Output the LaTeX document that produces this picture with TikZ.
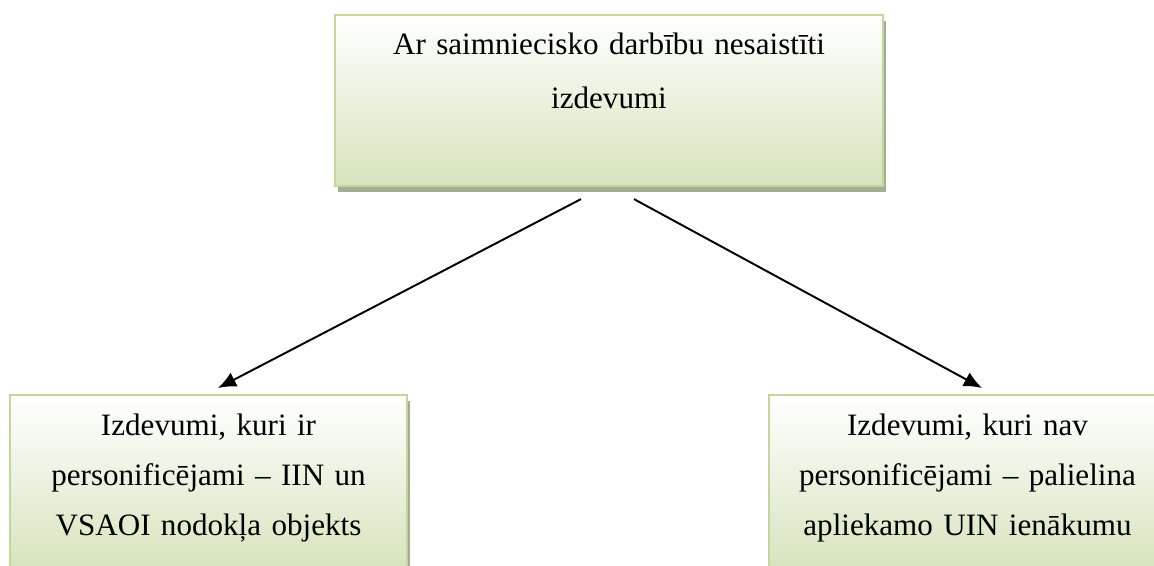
\documentclass[tikz,border=0pt]{standalone}
\usepackage{fontspec}
\setmainfont{Liberation Serif}
\usetikzlibrary{arrows.meta,shadows,calc}
\definecolor{boxline}{HTML}{C3D69B}
\definecolor{boxfill}{HTML}{D6E3BC}
\definecolor{boxshade}{HTML}{A4AC92}
\begin{document}
\begin{tikzpicture}[
   x=0.3859pt, y=-0.3859pt,
   every node/.style={draw=boxline, line width=0.8pt, top color=white, bottom color=boxfill,
       drop shadow={shadow xshift=1.2pt, shadow yshift=-2.3pt, fill=boxshade, opacity=1},
       align=center, inner xsep=4pt, inner ysep=0pt, anchor=north},
   headbox/.style={text width=203.5pt, text height=15.05pt, text depth=50.94pt,
       font=\fontsize{12}{20.9}\selectfont},
   kindbox/.style={text width=145.2pt, text height=15.44pt, text depth=53.25pt,
       font=\fontsize{12}{19.3}\selectfont},
   arr/.style={-{Latex[length=7pt,width=6pt]}, line width=0.75pt}]

\useasboundingbox (0,0) rectangle (1154,565);
\clip (0,0) rectangle (1154,565);

\node[headbox] (costs) at (609,14) {Ar saimniecisko darbību nesaistīti\\ izdevumi};
\node[kindbox] (pers) at (208.5,394) {Izdevumi, kuri ir\\ personificējami – IIN un\\ VSAOI nodokļa objekts};
\node[kindbox] (nonpers) at (967.5,394) {Izdevumi, kuri nav\\ personificējami – palielina\\ apliekamo UIN ienākumu};

\draw[arr] ($(costs.south)+(-28,12)$) -- ($(pers.north)+(9.5,-6)$);
\draw[arr] ($(costs.south)+(25,12)$) -- ($(nonpers.north)+(14.5,-6)$);

\end{tikzpicture}
\end{document}
